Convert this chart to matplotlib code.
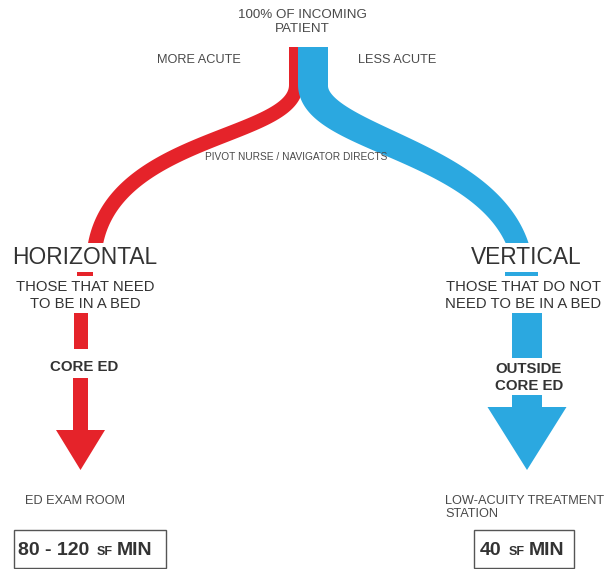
import numpy as np
import matplotlib.pyplot as plt
from matplotlib.patches import Polygon, Rectangle

RED = "#e5232a"
BLUE = "#2ba8e0"
DARK = "#333333"
GREY = "#4a4a4a"

# labels
top_label = ["100% OF INCOMING", "PATIENT"]
branch_labels = ["MORE ACUTE", "LESS ACUTE"]
pivot_label = "PIVOT NURSE / NAVIGATOR DIRECTS"
titles = ["HORIZONTAL", "VERTICAL"]
subtitles = [["THOSE THAT NEED", "TO BE IN A BED"],
             ["THOSE THAT DO NOT", "NEED TO BE IN A BED"]]
zones = [["CORE ED"], ["OUTSIDE", "CORE ED"]]
rooms = [["ED EXAM ROOM"], ["LOW-ACUITY TREATMENT", "STATION"]]
areas = [["80 - 120", "SF", "MIN"], ["40", "SF", "MIN"]]

plt.rcParams['font.family'] = ['Liberation Sans', 'DejaVu Sans']

fig = plt.figure(figsize=(6.04, 5.69), dpi=100)
ax = fig.add_axes([0, 0, 1, 1])
ax.set_xlim(0, 604)
ax.set_ylim(569, 0)
ax.set_axis_off()


def band(p, w0, w1, color, ytop, ycut):
    # straight stem from ytop, then a cubic bezier, tapered from w0 to w1
    p = np.array(p, dtype=float)
    t = np.linspace(0, 1, 300)[:, None]
    pts = ((1 - t)**3 * p[0] + 3 * (1 - t)**2 * t * p[1]
           + 3 * (1 - t) * t**2 * p[2] + t**3 * p[3])
    d = (3 * (1 - t)**2 * (p[1] - p[0]) + 6 * (1 - t) * t * (p[2] - p[1])
         + 3 * t**2 * (p[3] - p[2]))
    n = np.column_stack([-d[:, 1], d[:, 0]])
    n /= np.linalg.norm(n, axis=1)[:, None]
    w = (w0 + (w1 - w0) * t) / 2
    poly = np.vstack([[p[0][0] + w0 / 2, ytop], pts - n * w,
                      (pts + n * w)[::-1], [p[0][0] - w0 / 2, ytop]])
    patch = Polygon(poly, closed=True, color=color, lw=0)
    ax.add_patch(patch)
    clip = Rectangle((0, ytop), 604, ycut - ytop, transform=ax.transData)
    patch.set_clip_path(clip)


def arrow(cx, shaft_w, head_w, y0, yhead, ytip, color):
    s, h = shaft_w / 2, head_w / 2
    pts = [(cx - s, y0), (cx + s, y0), (cx + s, yhead), (cx + h, yhead),
           (cx, ytip), (cx - h, yhead), (cx - s, yhead)]
    ax.add_patch(Polygon(pts, closed=True, color=color, lw=0))


# curved split
band([(296, 85), (296, 140), (104, 135), (94, 255)], 14, 15, RED, 47, 243)
band([(313, 85), (313, 140), (495, 150), (521, 255)], 30, 21, BLUE, 47, 243)

# lower pieces
ax.add_patch(Rectangle((77, 272), 16, 4, color=RED, lw=0))
ax.add_patch(Rectangle((505, 272), 33, 4, color=BLUE, lw=0))
ax.add_patch(Rectangle((74, 313), 14, 36, color=RED, lw=0))
ax.add_patch(Rectangle((512, 313), 30, 45, color=BLUE, lw=0))
arrow(80.5, 15, 49, 378, 430, 470, RED)
arrow(527, 30, 79, 395, 407, 470, BLUE)

# texts
for i, s in enumerate(top_label):
    ax.text(302, 15 + i * 14, s, ha='center', va='center', fontsize=9.6, color=GREY)
ax.text(199, 60, branch_labels[0], ha='center', va='center', fontsize=9.2, color=GREY)
ax.text(397, 60, branch_labels[1], ha='center', va='center', fontsize=9.2, color=GREY)
ax.text(296, 157, pivot_label, ha='center', va='center', fontsize=7.3, color=GREY)

cols = [85, 523]
for k, cx in enumerate(cols):
    ax.text(cx + (0 if k == 0 else 3), 257, titles[k], ha='center', va='center',
            fontsize=16.4, color=DARK)
    for i, s in enumerate(subtitles[k]):
        ax.text(cx, 287 + i * 16.5, s, ha='center', va='center', fontsize=10.7,
                color=DARK)

ax.text(84, 367, zones[0][0], ha='center', va='center', fontsize=10.8,
        fontweight='bold', color=DARK)
for i, s in enumerate(zones[1]):
    ax.text(529, 369 + i * 17, s, ha='center', va='center', fontsize=10.8,
            fontweight='bold', color=DARK)

ax.text(25, 501, rooms[0][0], ha='left', va='center', fontsize=9.2, color=GREY)
for i, s in enumerate(rooms[1]):
    ax.text(445, 501 + i * 13, s, ha='left', va='center', fontsize=9.2, color=GREY)

# area boxes
boxes = [(14, 152), (474, 100)]
text_x = [18, 480]
for k, (bx, bw) in enumerate(boxes):
    ax.add_patch(Rectangle((bx, 530), bw, 38, fill=False, ec="#555555", lw=1.0))
    base = 555
    t1 = ax.text(text_x[k], base, areas[k][0], ha='left', va='baseline',
                 fontsize=14, fontweight='bold', color=DARK)
    t2 = ax.annotate(areas[k][1], xy=(1, base), xycoords=(t1, 'data'),
                     xytext=(5, 0), textcoords='offset points', ha='left',
                     va='baseline', fontsize=9, fontweight='bold', color=DARK)
    ax.annotate(areas[k][2], xy=(1, base), xycoords=(t2, 'data'),
                xytext=(3, 0), textcoords='offset points', ha='left',
                va='baseline', fontsize=14, fontweight='bold', color=DARK)

fig.savefig("out.png", dpi=100)
